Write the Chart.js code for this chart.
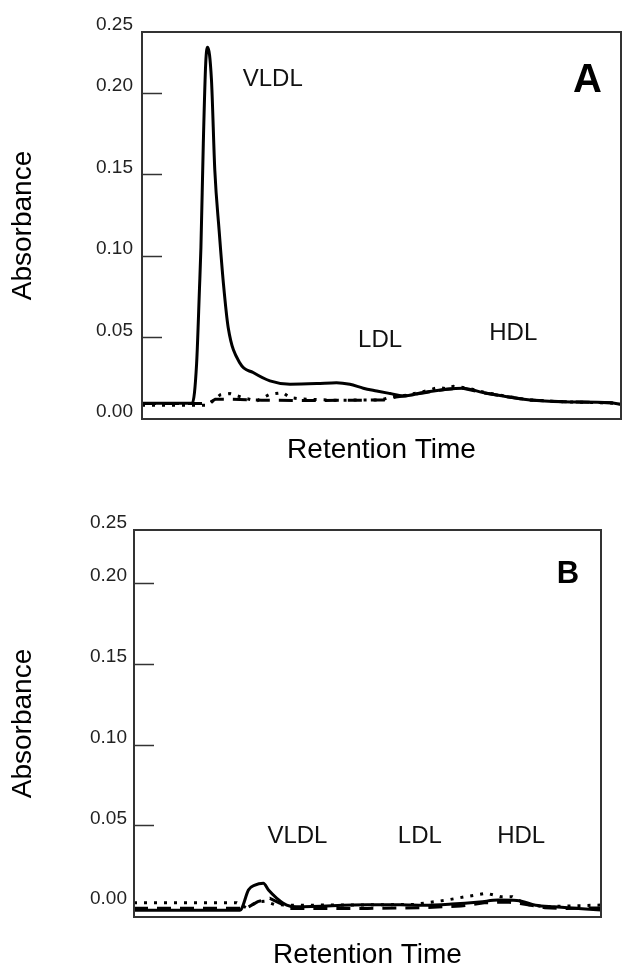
<!DOCTYPE html>
<html>
<head>
<meta charset="utf-8">
<script src="https://cdn.jsdelivr.net/npm/chart.js@4.4.1/dist/chart.umd.min.js"></script>
<style>
  html, body { margin: 0; padding: 0; background: #fff; overflow: hidden; }
  #wrap { position: relative; width: 624px; height: 966px; overflow: hidden; }
  canvas { position: absolute; left: 0; }
  #cA { top: 0; }
  #cB { top: 483px; }
</style>
</head>
<body>
<div id="wrap">
  <canvas id="cA" width="624" height="483"></canvas>
  <canvas id="cB" width="624" height="500"></canvas>
</div>
<script>
// retention time in arbitrary units (0-100 across the plot), absorbance values

// Panel A
const timeA_solid = [0, 10.5, 11.4, 12.0, 12.3, 12.8, 13.3, 13.7, 14.5, 15.2, 16.1, 17.0, 18.0, 20.5, 23.2, 26.7, 30.9, 36.5, 40.6, 43.4, 46.2, 49.0, 51.8, 54.5, 58.7, 63.6, 67.0, 71.2, 75.4, 81.0, 87.9, 97.7, 100];
const absA_solid  = [0.0097, 0.0097, 0.034, 0.080, 0.105, 0.169, 0.218, 0.228, 0.208, 0.1525, 0.1156, 0.083, 0.056, 0.034, 0.0285, 0.0234, 0.0213, 0.0217, 0.0223, 0.0213, 0.0189, 0.0172, 0.0156, 0.0141, 0.0162, 0.0183, 0.0189, 0.0162, 0.0141, 0.0117, 0.0106, 0.0100, 0.0090];

const timeA_dot = [0, 13.8, 16.3, 18.4, 21.1, 23.9, 26.7, 29.4, 30.9, 33.0, 40.0, 50.0, 52.0, 55.0, 59.0, 62.0, 63.5, 65.0, 68.0, 72.0, 76.0, 81.0, 88.0, 98.0, 100];
const absA_dot  = [0.0085, 0.0085, 0.0148, 0.0156, 0.0131, 0.0110, 0.0152, 0.0162, 0.0131, 0.0123, 0.0115, 0.0117, 0.0135, 0.0145, 0.0170, 0.0195, 0.0185, 0.0200, 0.0190, 0.0160, 0.0140, 0.0117, 0.0106, 0.0098, 0.0090];

const timeA_dash = [0, 13.8, 15.3, 18.4, 25.0, 35.0, 45.0, 50.5, 53.0, 55.0, 58.7, 63.6, 67.0, 71.2, 75.4, 81.0, 88.0, 97.7, 100];
const absA_dash  = [0.0095, 0.0095, 0.0121, 0.0121, 0.0115, 0.0113, 0.0115, 0.0117, 0.0135, 0.0142, 0.0160, 0.0183, 0.0189, 0.0160, 0.0140, 0.0117, 0.0106, 0.0100, 0.0090];

// Panel B
const timeB_solid = [0, 22.7, 23.1, 24.5, 25.9, 27.7, 28.8, 30.6, 32.7, 34.8, 50, 57, 62, 68, 74, 78, 82, 86, 90, 100];
const absB_solid  = [-0.0026, -0.0026, -0.0014, 0.0099, 0.0130, 0.0141, 0.0099, 0.0048, 0.0006, -0.0005, 0.0008, 0.0008, 0.0005, 0.0012, 0.0025, 0.0037, 0.0035, 0.0005, -0.0005, -0.0025];

const timeB_dot = [0, 22, 24, 26.5, 28, 30, 33, 45, 60, 67, 71, 75.5, 78.5, 81, 84, 88, 100];
const absB_dot  = [0.0020, 0.0020, -0.0010, 0.0025, 0.0030, 0.0010, 0.0005, 0.0006, 0.0010, 0.0037, 0.0058, 0.0079, 0.0058, 0.0058, 0.0010, -0.0004, 0.0006];

const timeB_dash = [0, 24, 26.5, 29.1, 31.3, 33.4, 50, 62, 70, 75, 80, 84, 88, 92, 100];
const absB_dash  = [-0.0014, -0.0014, 0.0027, 0.0048, 0.0017, -0.0015, -0.0015, -0.0010, 0.0000, 0.0020, 0.0025, 0.0010, -0.0010, -0.0015, -0.0012];

// axis ticks
const yTickValues = [0, 0.05, 0.10, 0.15, 0.20];
const yTickLabels = ['0.00', '0.05', '0.10', '0.15', '0.20', '0.25'];

// peak annotations
const peakNames = ['VLDL', 'LDL', 'HDL'];
const peakPosA = [[27.3, 0.2085], [49.7, 0.0485], [77.5, 0.0528]];
const peakPosB = [[35.0, 0.0434], [61.2, 0.0434], [82.9, 0.0434]];

const FONT = '"Liberation Sans", Arial, sans-serif';
Chart.defaults.font.family = FONT;

const pts = (xs, ys) => xs.map((x, i) => ({ x: x, y: ys[i] }));

const framePlugin = {
  id: 'frame',
  afterDraw(chart, args, opts) {
    const { ctx, chartArea: a, scales: { x, y } } = chart;
    ctx.save();
    ctx.strokeStyle = '#333';
    ctx.lineWidth = 2;
    ctx.strokeRect(a.left, a.top, a.right - a.left, a.bottom - a.top);
    // short tick marks inside the frame
    ctx.lineWidth = 1.5;
    y.ticks.forEach(t => {
      if (t.value <= 0 || t.value >= y.max) return;
      const py = Math.round(y.getPixelForValue(t.value)) + 0.5;
      ctx.beginPath();
      ctx.moveTo(a.left, py);
      ctx.lineTo(a.left + 20, py);
      ctx.stroke();
    });
    ctx.fillStyle = '#111';
    ctx.textAlign = 'center';
    ctx.textBaseline = 'middle';
    ctx.font = '24px ' + FONT;
    opts.peaks.forEach((p, i) => {
      ctx.fillText(peakNames[i], x.getPixelForValue(p[0]), y.getPixelForValue(p[1]));
    });
    ctx.fillStyle = '#000';
    ctx.font = 'bold ' + opts.tagSize + 'px ' + FONT;
    ctx.fillText(opts.tag, x.getPixelForValue(opts.tagPos[0]), y.getPixelForValue(opts.tagPos[1]));
    ctx.restore();
  }
};

function panel(id, p) {
  return new Chart(document.getElementById(id), {
    type: 'line',
    data: {
      datasets: [
        { data: pts(p.tSolid, p.aSolid), borderColor: '#000', borderWidth: 3, pointRadius: 0,
          borderJoinStyle: 'round', cubicInterpolationMode: 'monotone' },
        { data: pts(p.tDash, p.aDash), borderColor: '#000', borderWidth: 3, borderDash: [14, 9], pointRadius: 0 },
        { data: pts(p.tDot, p.aDot), borderColor: '#000', borderWidth: 3, borderDash: [3, 7], pointRadius: 0 }
      ]
    },
    options: {
      responsive: false,
      animation: false,
      devicePixelRatio: 1,
      layout: { padding: { top: p.padTop, right: p.padRight, left: 0, bottom: 0 } },
      plugins: {
        legend: { display: false },
        tooltip: { enabled: false },
        frame: { peaks: p.peaks, tag: p.tag, tagPos: p.tagPos, tagSize: p.tagSize }
      },
      scales: {
        x: {
          type: 'linear', min: 0, max: 100,
          grid: { display: false, drawTicks: false },
          border: { display: false },
          ticks: { display: false },
          title: { display: true, text: 'Retention Time', color: '#000', font: { size: 28 }, padding: { top: 0, bottom: p.xTitlePad } },
          afterFit: s => { s.height = p.xHeight; }
        },
        y: {
          min: p.yMin, max: p.yMax,
          grid: { display: false, drawTicks: false },
          border: { display: false },
          afterBuildTicks: s => { s.ticks = yTickValues.map(v => ({ value: v })).concat([{ value: s.max }]); },
          ticks: { autoSkip: false, color: '#222', font: { size: 19 }, padding: p.tickPad, labelOffset: -7,
                   callback: (v, i) => yTickLabels[i] },
          title: { display: true, text: 'Absorbance', color: '#000', font: { size: 28 }, padding: { top: 6.5, bottom: 0 } },
          afterFit: s => { s.width = p.yWidth; }
        }
      }
    },
    plugins: [framePlugin]
  });
}

panel('cA', {
  tSolid: timeA_solid, aSolid: absA_solid, tDot: timeA_dot, aDot: absA_dot, tDash: timeA_dash, aDash: absA_dash,
  yMin: 0, yMax: 0.2373, padTop: 32, padRight: 3, yWidth: 142, xHeight: 64, xTitlePad: 16, tickPad: 9,
  peaks: peakPosA, tag: 'A', tagPos: [93.0, 0.2074], tagSize: 40
});

panel('cB', {
  tSolid: timeB_solid, aSolid: absB_solid, tDot: timeB_dot, aDot: absB_dot, tDash: timeB_dash, aDash: absB_dash,
  yMin: -0.0068, yMax: 0.233, padTop: 47, padRight: 23, yWidth: 134, xHeight: 66, xTitlePad: 11, tickPad: 7,
  peaks: peakPosB, tag: 'B', tagPos: [92.9, 0.2057], tagSize: 31
});
</script>
</body>
</html>
